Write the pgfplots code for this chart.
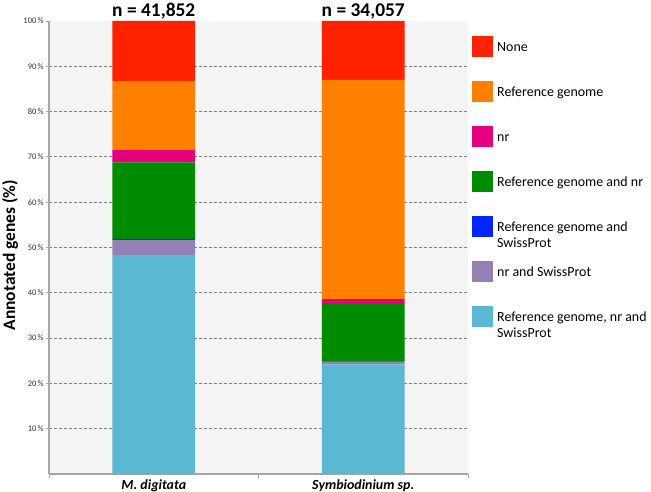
\documentclass[border=0pt]{standalone}
\usepackage{pgfplots}
\pgfplotsset{compat=1.18}
\usepackage{fontspec}
\setmainfont{Carlito}
\definecolor{cnone}{HTML}{FF2200}
\definecolor{cref}{HTML}{FF7F00}
\definecolor{cnr}{HTML}{E6007E}
\definecolor{crefnr}{HTML}{008C00}
\definecolor{crefsp}{HTML}{0026FF}
\definecolor{cnrsp}{HTML}{9580B6}
\definecolor{call}{HTML}{5BB8D3}
\definecolor{bggray}{HTML}{F4F4F4}
\definecolor{axisgray}{HTML}{A6A6A6}
\definecolor{gridgray}{HTML}{808080}
\newcommand{\lent}[1]{\begin{tabular}[t]{@{}l@{}}#1\end{tabular}}
\begin{document}
\begin{tikzpicture}
\begin{axis}[
  width=419bp, height=453bp, scale only axis,
  xmin=-0.5, xmax=1.5, ymin=0, ymax=100,
  ybar stacked, bar width=0.396,
  clip mode=individual,
  axis background/.style={fill=bggray},
  axis x line*=bottom, axis y line*=left,
  axis line style={draw=axisgray, line width=1.5bp, -},
  tick align=outside,
  xtick={0,1},
  xticklabels={\textbf{\textit{M. digitata}}, \textbf{\textit{Symbiodinium sp.}}},
  xticklabel style={font=\fontsize{14}{16}\selectfont, inner sep=0pt, yshift=-3bp},
  major x tick style={draw=none},
  minor xtick={-0.5,0.5,1.5},
  minor tick length=4bp,
  minor x tick style={draw=axisgray, line width=1bp},
  ytick={10,20,...,90},
  extra y ticks={100},
  extra y tick style={grid=none},
  major tick length=3bp,
  y tick style={draw=axisgray, line width=0.8bp},
  yticklabel={\pgfmathprintnumber{\tick}\,\%},
  yticklabel style={font=\fontsize{8.5}{10}\selectfont, text=black!80, inner sep=0pt, xshift=-2bp},
  /pgf/number format/assume math mode=true,
  ymajorgrids,
  grid style={draw=gridgray, line width=1bp, dash pattern=on 3bp off 2bp},
  ylabel={\textbf{Annotated genes (\%)}},
  ylabel style={font=\fontsize{17.5}{19}\selectfont, at={(rel axis cs:-0.0811,0.483)}, anchor=base, inner sep=0pt},
  reverse legend,
  legend image code/.code={\fill[#1] (0bp,-6bp) rectangle (21bp,15bp);},
  legend style={at={(rel axis cs:1.0095,0.969)}, anchor=north west,
    draw=none, fill=none, inner sep=0pt, row sep=0pt, column sep=4bp,
    cells={anchor=base west},
    nodes={inner sep=0pt, text height=16bp, text depth=29bp},
    font=\fontsize{14}{16}\selectfont},
]
\addplot[fill=call, draw=none] coordinates {(0,48.3) (1,24.2)};
\addlegendentry{\lent{Reference genome, nr and\\SwissProt}}
\addplot[fill=cnrsp, draw=none] coordinates {(0,3.4) (1,0.5)};
\addlegendentry{\lent{nr and SwissProt}}
\addplot[fill=crefsp, draw=none] coordinates {(0,0.2) (1,0.1)};
\addlegendentry{\lent{Reference genome and\\SwissProt}}
\addplot[fill=crefnr, draw=none] coordinates {(0,16.9) (1,12.9)};
\addlegendentry{\lent{Reference genome and nr}}
\addplot[fill=cnr, draw=none] coordinates {(0,2.7) (1,0.9)};
\addlegendentry{\lent{nr}}
\addplot[fill=cref, draw=none] coordinates {(0,15.2) (1,48.4)};
\addlegendentry{\lent{Reference genome}}
\addplot[fill=cnone, draw=none] coordinates {(0,13.3) (1,13.0)};
\addlegendentry{\lent{None}}
\node[font=\bfseries\fontsize{19.5}{21}\selectfont, anchor=base, yshift=4bp] at (axis cs:0,100) {n = 41,852};
\node[font=\bfseries\fontsize{19.5}{21}\selectfont, anchor=base, yshift=4bp] at (axis cs:1,100) {n = 34,057};
\coordinate (sw) at (rel axis cs:0,0);
\end{axis}
\pgfresetboundingbox
\path[use as bounding box] (sw) ++(-49bp,-18bp) rectangle ++(651bp,492bp);
\end{tikzpicture}
\end{document}
